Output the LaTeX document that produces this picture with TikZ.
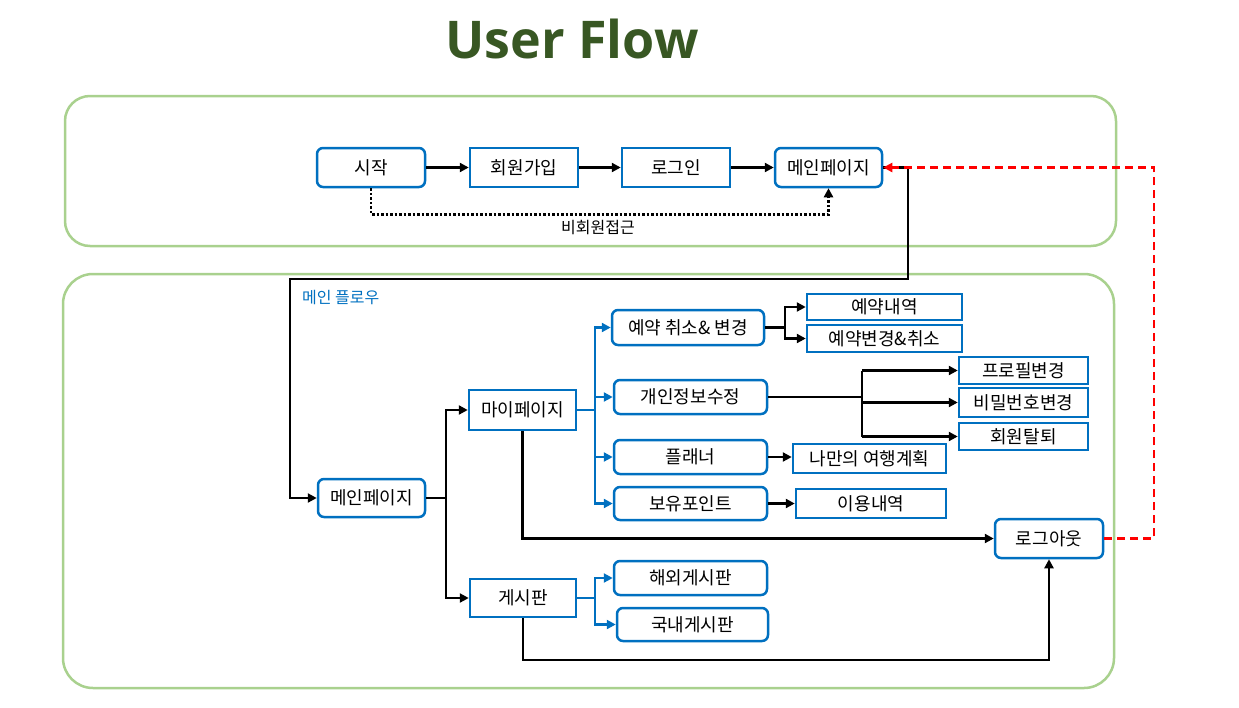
\documentclass[tikz,border=0pt]{standalone}
\usepackage{fontspec}
\setmainfont{Noto Sans CJK KR}
\newfontfamily\titlefont{Open Sans}
\usetikzlibrary{arrows.meta}
\definecolor{nodeblue}{HTML}{0070C0}
\definecolor{boxgreen}{HTML}{A9D18E}
\definecolor{titlegreen}{HTML}{385723}
\tikzset{
  box/.style={draw=nodeblue, line width=2.5pt, fill=white, inner sep=0pt, font=\fontsize{18}{20}\selectfont},
  rbox/.style={box, rounded corners=6pt},
  conn/.style={draw=black, line width=2.5pt},
  arr/.style={conn, -{Triangle[length=9pt,width=9pt]}},
  bconn/.style={draw=nodeblue, line width=2.5pt},
  barr/.style={bconn, -{Triangle[length=9pt,width=9pt]}},
  container/.style={draw=boxgreen, line width=2.5pt},
}
\begin{document}
\begin{tikzpicture}[x=1pt,y=-1pt]
\useasboundingbox (0,0) rectangle (1239,707);
% title
\node[font=\titlefont\bfseries\fontsize{52}{60}\selectfont, text=titlegreen] (title) at (572,39) {User Flow};
% containers
\draw[container, rounded corners=25pt] (65,96) rectangle (1116,246);
\draw[container, rounded corners=30pt] (63,274) rectangle (1114,688);
\node[anchor=west, text=nodeblue, font=\fontsize{16}{18}\selectfont, inner sep=0pt] (flowlabel) at (302,298) {메인 플로우};
% top row
\node[rbox, minimum width=108, minimum height=39] (start) at (371,167.5) {시작};
\node[box, minimum width=108, minimum height=39] (join) at (524,167.5) {회원가입};
\node[box, minimum width=108, minimum height=39] (login) at (676,167.5) {로그인};
\node[rbox, minimum width=107, minimum height=39] (main1) at (828.5,167.5) {메인페이지};
\draw[arr] (start) -- (join);
\draw[arr] (join) -- (login);
\draw[arr] (login) -- (main1);
\draw[line width=2.5pt, dash pattern=on 2.5pt off 2pt, -{Triangle[length=9pt,width=9pt]}] (start.south) -- ++(0,26) -| (main1.south);
\node[font=\fontsize{16}{18}\selectfont, inner sep=0pt] (guest) at (598,228) {비회원접근};
% main flow nodes
\node[rbox, minimum width=107, minimum height=38] (main2) at (371.5,498) {메인페이지};
\node[box, minimum width=107, minimum height=40] (my) at (522.5,410) {마이페이지};
\node[box, minimum width=106, minimum height=38] (board) at (523,598) {게시판};
\node[rbox, minimum width=152, minimum height=35] (res) at (688,327.5) {예약 취소\& 변경};
\node[rbox, minimum width=153, minimum height=34] (info) at (690.5,397) {개인정보수정};
\node[rbox, minimum width=153, minimum height=34] (plan) at (690.5,457) {플래너};
\node[rbox, minimum width=153, minimum height=33] (point) at (690.5,503.5) {보유포인트};
\node[box, minimum width=155, minimum height=26] (reslist) at (884.5,307) {예약내역};
\node[box, minimum width=155, minimum height=27] (reschange) at (884.5,338.5) {예약변경\&취소};
\node[box, minimum width=129, minimum height=27] (profile) at (1023.5,370.5) {프로필변경};
\node[box, minimum width=129, minimum height=29] (pw) at (1023.5,402.5) {비밀번호변경};
\node[box, minimum width=129, minimum height=27] (quit) at (1023.5,436.5) {회원탈퇴};
\node[box, minimum width=153, minimum height=29] (myplan) at (869.5,458.5) {나만의 여행계획};
\node[box, minimum width=150, minimum height=29] (usage) at (871,503.5) {이용내역};
\node[rbox, minimum width=108, minimum height=39] (logout) at (1049,538.5) {로그아웃};
\node[rbox, minimum width=153, minimum height=34] (overseas) at (690.5,578) {해외게시판};
\node[rbox, minimum width=151, minimum height=33] (domestic) at (692.5,624.5) {국내게시판};
% route from top main page to bottom main page
\coordinate (r1) at (908,167.5);
\coordinate (r2) at (908,279);
\coordinate (r3) at (290,279);
\draw[arr] (main1.east) -- (r1) -- (r2) -- (r3) |- (main2.west);
% main page branches
\coordinate (mj) at (446,498);
\draw[conn] (main2.east) -- (mj);
\draw[arr] (mj) |- (my.west);
\draw[arr] (mj) |- (board.west);
% my page branches
\coordinate (myj) at (595,410);
\draw[bconn] (my.east) -- (myj);
\foreach \n in {res,info,plan,point} \draw[barr] (myj) |- (\n.west);
% board branches
\coordinate (bj) at (595,598);
\draw[bconn] (board.east) -- (bj);
\foreach \n in {overseas,domestic} \draw[barr] (bj) |- (\n.west);
% reservation branches
\coordinate (rj) at (785,327.5);
\draw[conn] (res.east) -- (rj);
\foreach \n in {reslist,reschange} \draw[arr] (rj) |- (\n.west);
% info branches
\coordinate (ij) at (862,397);
\draw[conn] (info.east) -- (ij);
\draw[conn] (ij |- profile.west) -- (ij |- quit.west);
\foreach \n in {profile,pw,quit} \draw[arr] (ij |- \n.west) -- (\n.west);
% planner, points
\draw[arr] (plan.east) -- (myplan.west |- plan.east);
\draw[arr] (point.east) -- (usage.west |- point.east);
% logout
\draw[arr] (my.south) |- (logout.west);
\draw[arr] (board.south) -- (board.south |- 0,660) -| (logout.south);
% red dashed back to top main page
\coordinate (d1) at (1154,538.5);
\coordinate (d2) at (1154,167.5);
\draw[red, line width=2.5pt, dash pattern=on 8pt off 5pt, -{Triangle[length=9pt,width=9pt]}] (logout.east) -- (d1) -- (d2) -- (main1.east);
\end{tikzpicture}
\end{document}
